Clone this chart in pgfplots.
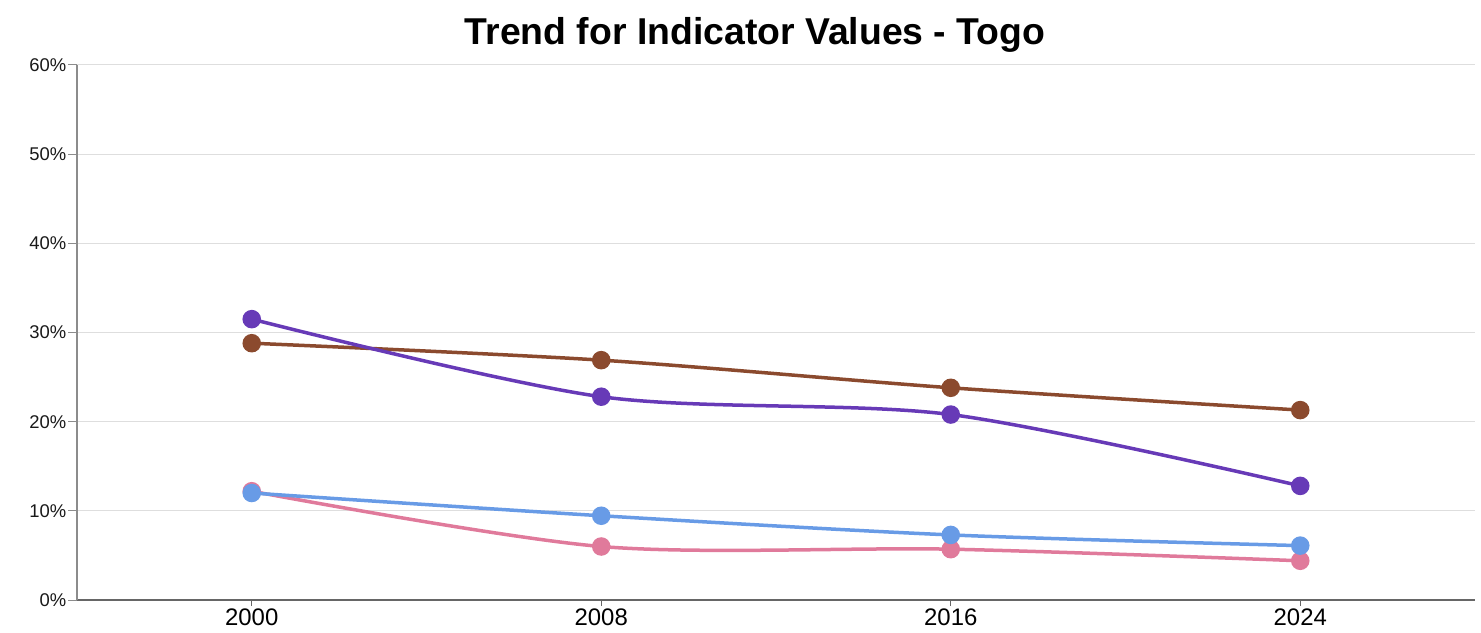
\documentclass[border=0pt]{standalone}
\usepackage{pgfplots}
\pgfplotsset{compat=1.18}
\usepackage{fontspec}
\setmainfont{Liberation Sans}
\definecolor{cpurple}{RGB}{103,58,183}
\definecolor{cbrown}{RGB}{139,74,46}
\definecolor{cblue}{RGB}{104,155,230}
\definecolor{cpink}{RGB}{224,122,155}
\begin{document}
\begin{tikzpicture}
\begin{axis}[
  scale only axis, width=1398bp, height=535bp,
  xmin=-0.5, xmax=3.5, ymin=0, ymax=60,
  xtick={0,1,2,3}, xticklabels={2000,2008,2016,2024},
  ytick={0,10,20,30,40,50,60},
  yticklabel={\pgfmathprintnumber{\tick}\%},
  /pgf/number format/assume math mode=true,
  axis x line*=bottom, axis y line*=left,
  x axis line style={draw=black!60, line width=1.2bp},
  y axis line style={draw=black!45, line width=1.5bp},
  ymajorgrids, grid style={draw=black!13, line width=1bp},
  tick align=outside,
  xtick style={draw=black!60, line width=1bp},
  ytick style={draw=black!45, line width=1bp},
  x tick style={/pgfplots/major tick length=6bp},
  y tick style={/pgfplots/major tick length=9bp},
  x tick label style={font=\fontsize{24}{24}\selectfont, yshift=-1bp},
  y tick label style={font=\fontsize{18.5}{18.5}\selectfont, xshift=-3bp, text=black!90},
  clip=false,
  every axis plot/.append style={smooth, tension=0.5, line width=3.5bp, mark=*, mark size=7.5bp},
]
\addplot[cbrown, mark options={fill=cbrown, draw=cbrown}] coordinates {(0,28.8) (1,26.9) (2,23.8) (3,21.3)};
\addplot[cpurple, mark options={fill=cpurple, draw=cpurple}] coordinates {(0,31.5) (1,22.8) (2,20.8) (3,12.8)};
\addplot[cpink, mark options={fill=cpink, draw=cpink}] coordinates {(0,12.2) (1,6.0) (2,5.7) (3,4.4)};
\addplot[cblue, mark options={fill=cblue, draw=cblue}] coordinates {(0,12.0) (1,9.45) (2,7.3) (3,6.1)};
\node[anchor=base, font=\bfseries\fontsize{37.5}{37.5}\selectfont, inner sep=0pt] at ([yshift=20bp]rel axis cs:0.485,1) {Trend for Indicator Values - Togo};
\path (rel axis cs:0,0) ++(-77bp,-32bp) coordinate (bbsw);
\path (rel axis cs:1,1) ++(6bp,65bp) coordinate (bbne);
\path (bbsw) rectangle (bbne);
\end{axis}
\end{tikzpicture}
\end{document}
